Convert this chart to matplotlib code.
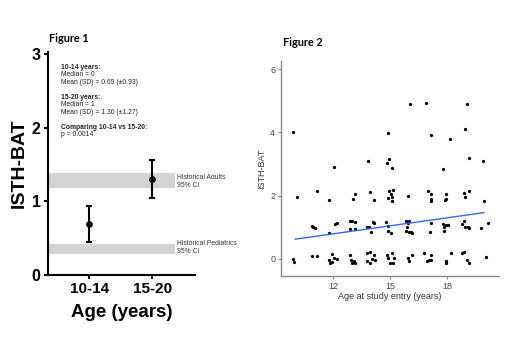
import matplotlib
matplotlib.use("Agg")
import matplotlib.pyplot as plt
import numpy as np

# ---------------- Figure 1 data ----------------
groups = ["10-14", "15-20"]
group_means = [0.69, 1.30]
ci_low = [0.45, 1.04]
ci_high = [0.94, 1.56]
adult_band = [1.18, 1.39]
ped_band = [0.28, 0.42]
y1_ticks = [0, 1, 2, 3]

# ---------------- Figure 2 data ----------------
age = [9.88, 14.88, 16.04, 16.89, 17.14, 18.14, 18.95, 19.05,
       12.04, 13.86, 14.84, 14.95, 15.09, 17.81, 19.16, 19.88,
       10.09, 11.14, 11.82, 13.05, 13.16, 13.98, 14.18, 14.88, 14.98, 15.05, 15.12, 15.19, 15.10,
       15.96, 17.02, 17.16, 17.18, 17.19, 17.88, 17.93, 17.96, 18.88, 18.95, 19.16, 19.96,
       10.88, 10.98, 11.05, 11.81, 12.11, 12.21, 12.91, 13.02, 13.18, 12.91, 13.14, 13.79, 13.89,
       14.00, 14.09, 14.19, 14.79, 14.91, 14.91, 15.04, 15.84, 15.93, 16.00, 15.90, 15.86, 16.00,
       16.10, 16.19, 17.09, 17.19, 17.83, 17.84, 17.93, 18.05, 17.82, 18.81, 18.88, 18.95, 19.09,
       19.18, 19.79, 20.18,
       9.88, 9.98, 10.91, 11.19, 11.82, 11.93, 11.86, 11.96, 12.07, 12.21, 12.91, 12.98, 13.02,
       13.09, 13.19, 13.82, 13.93, 13.82, 13.93, 14.04, 14.14, 14.21, 14.84, 14.91, 15.02, 15.12,
       15.16, 15.23, 15.93, 16.02, 16.19, 16.81, 16.93, 17.05, 17.16, 17.16, 17.93, 17.95, 18.21,
       18.81, 18.91, 19.05, 19.19, 20.04]
bat = [4.01, 3.97, 4.89, 4.94, 3.92, 3.80, 4.11, 4.90,
       2.91, 3.08, 3.02, 3.15, 2.88, 2.85, 3.18, 3.09,
       1.95, 2.13, 1.86, 1.89, 2.05, 2.11, 1.85, 1.92, 2.16, 2.05, 1.84, 2.18, 1.96,
       1.99, 2.13, 2.04, 1.89, 1.82, 1.85, 2.05, 1.89, 2.09, 1.97, 2.16, 1.82,
       1.04, 1.01, 0.97, 0.82, 1.09, 1.12, 1.19, 1.20, 1.16, 0.95, 0.93, 0.99, 1.01,
       0.84, 1.15, 1.14, 1.17, 1.03, 0.88, 0.81, 1.20, 1.14, 1.18, 1.02, 0.88, 0.86,
       0.84, 0.82, 0.84, 1.12, 0.88, 1.01, 1.08, 1.08, 1.09, 1.10, 1.18, 1.01, 0.99,
       0.98, 0.96, 1.12,
       -0.02, -0.09, 0.09, 0.08, -0.04, -0.09, -0.13, 0.15, 0.01, -0.02, 0.12, -0.04, -0.12,
       -0.06, -0.12, 0.19, 0.21, -0.07, -0.15, -0.01, 0.11, -0.03, 0.13, 0.01, -0.12, 0.18,
       -0.12, 0.03, 0.01, -0.06, 0.13, 0.17, -0.07, -0.04, 0.12, -0.04, -0.06, -0.15, 0.18,
       0.17, 0.20, -0.03, -0.12, 0.04]
fit_x = [10.02, 19.96]
fit_y = [0.62, 1.46]
x2_ticks = [12, 15, 18]
y2_ticks = [0, 2, 4, 6]

fig = plt.figure(figsize=(5.2, 3.56), dpi=100)
fig.patch.set_facecolor("white")

# ================= Figure 1 =================
ax1 = fig.add_axes([0.0917, 0.2275, 0.2834, 0.6273])
xpos = np.arange(len(groups))
ax1.set_xlim(-0.66, 1.68)
ax1.set_ylim(0, 3.03)
ax1.axhspan(adult_band[0], adult_band[1], xmin=0, xmax=(1.36 + 0.66) / 2.34,
            color="#d4d4d4", lw=0, zorder=1)
ax1.axhspan(ped_band[0], ped_band[1], xmin=0, xmax=(1.36 + 0.66) / 2.34,
            color="#d4d4d4", lw=0, zorder=1)
yerr = [np.array(group_means) - np.array(ci_low), np.array(ci_high) - np.array(group_means)]
ax1.errorbar(xpos, group_means, yerr=yerr, fmt="o", color="black", ms=3.8,
             elinewidth=1.5, capsize=2.5, capthick=1.5, zorder=3)
for s in ["top", "right"]:
    ax1.spines[s].set_visible(False)
for s in ["left", "bottom"]:
    ax1.spines[s].set_linewidth(1.5)
ax1.set_xticks(xpos)
ax1.set_xticklabels(groups)
ax1.set_yticks(y1_ticks)
ax1.tick_params(axis="both", direction="out", length=3, width=1.5, pad=2)
for lab in ax1.get_xticklabels():
    lab.set_fontfamily("Liberation Sans"); lab.set_fontweight("bold"); lab.set_fontsize(11)
for lab in ax1.get_yticklabels():
    lab.set_fontfamily("Liberation Sans"); lab.set_fontweight("bold"); lab.set_fontsize(11.5)
ax1.set_ylabel("ISTH-BAT", fontfamily="Liberation Sans", fontweight="bold", fontsize=14, labelpad=3)
ax1.set_xlabel("Age (years)", fontfamily="Liberation Sans", fontweight="bold", fontsize=13.5, labelpad=6)

ann = [("10-14 years:", True), ("Median = 0", False), ("Mean (SD) = 0.69 (\u00b10.93)", False), ("", False),
       ("15-20 years:", True), ("Median = 1", False), ("Mean (SD) = 1.30 (\u00b11.27)", False), ("", False),
       ("Comparing 10-14 vs 15-20:", True), ("p = 0.0014", False)]
y0 = 2.82
for i, (t, b) in enumerate(ann):
    if t:
        ax1.text(-0.45, y0 - i * 0.102, t, fontsize=4.9, fontfamily="Liberation Sans",
                 fontweight="bold" if b else "normal", color="#222222", va="center", ha="left")
ax1.text(1.40, 1.265, "Historical Adults\n95% CI", fontsize=4.9, fontfamily="Liberation Sans",
         color="#333333", va="center", ha="left", linespacing=1.2)
ax1.text(1.40, 0.375, "Historical Pediatrics\n95% CI", fontsize=4.9, fontfamily="Liberation Sans",
         color="#333333", va="center", ha="left", linespacing=1.2)
fig.text(49 / 520, 1 - 39 / 356, "Figure 1", fontsize=7.8, fontfamily="Lato", fontweight="bold",
         va="center", ha="left")

# ================= Figure 2 =================
ax2 = fig.add_axes([0.54, 0.2247, 0.4198, 0.6048])
ax2.scatter(age, bat, s=5.5, color="black", lw=0, zorder=3)
ax2.plot(fit_x, fit_y, color="#3366FF", lw=1.0, zorder=4)
ax2.set_xlim(9.26, 20.75)
ax2.set_ylim(-0.547, 6.27)
ax2.set_xticks(x2_ticks)
ax2.set_yticks(y2_ticks)
for s in ["top", "right"]:
    ax2.spines[s].set_visible(False)
for s in ["left", "bottom"]:
    ax2.spines[s].set_color("#888888")
    ax2.spines[s].set_linewidth(1.0)
ax2.tick_params(axis="both", direction="out", length=2, width=0.8, color="#888888",
                labelsize=6.5, labelcolor="#444444", pad=2)
for lab in ax2.get_xticklabels() + ax2.get_yticklabels():
    lab.set_fontfamily("Liberation Sans")
ax2.set_xlabel("Age at study entry (years)", fontsize=6.5, fontfamily="Liberation Sans",
               color="#333333", labelpad=1)
ax2.set_ylabel("ISTH-BAT", fontsize=6.5, fontfamily="Liberation Sans", color="#333333", labelpad=3)
fig.text(283 / 520, 1 - 42 / 356, "Figure 2", fontsize=7.8, fontfamily="Lato", fontweight="bold",
         va="center", ha="left")

fig.savefig("out.png", dpi=100, facecolor="white")
